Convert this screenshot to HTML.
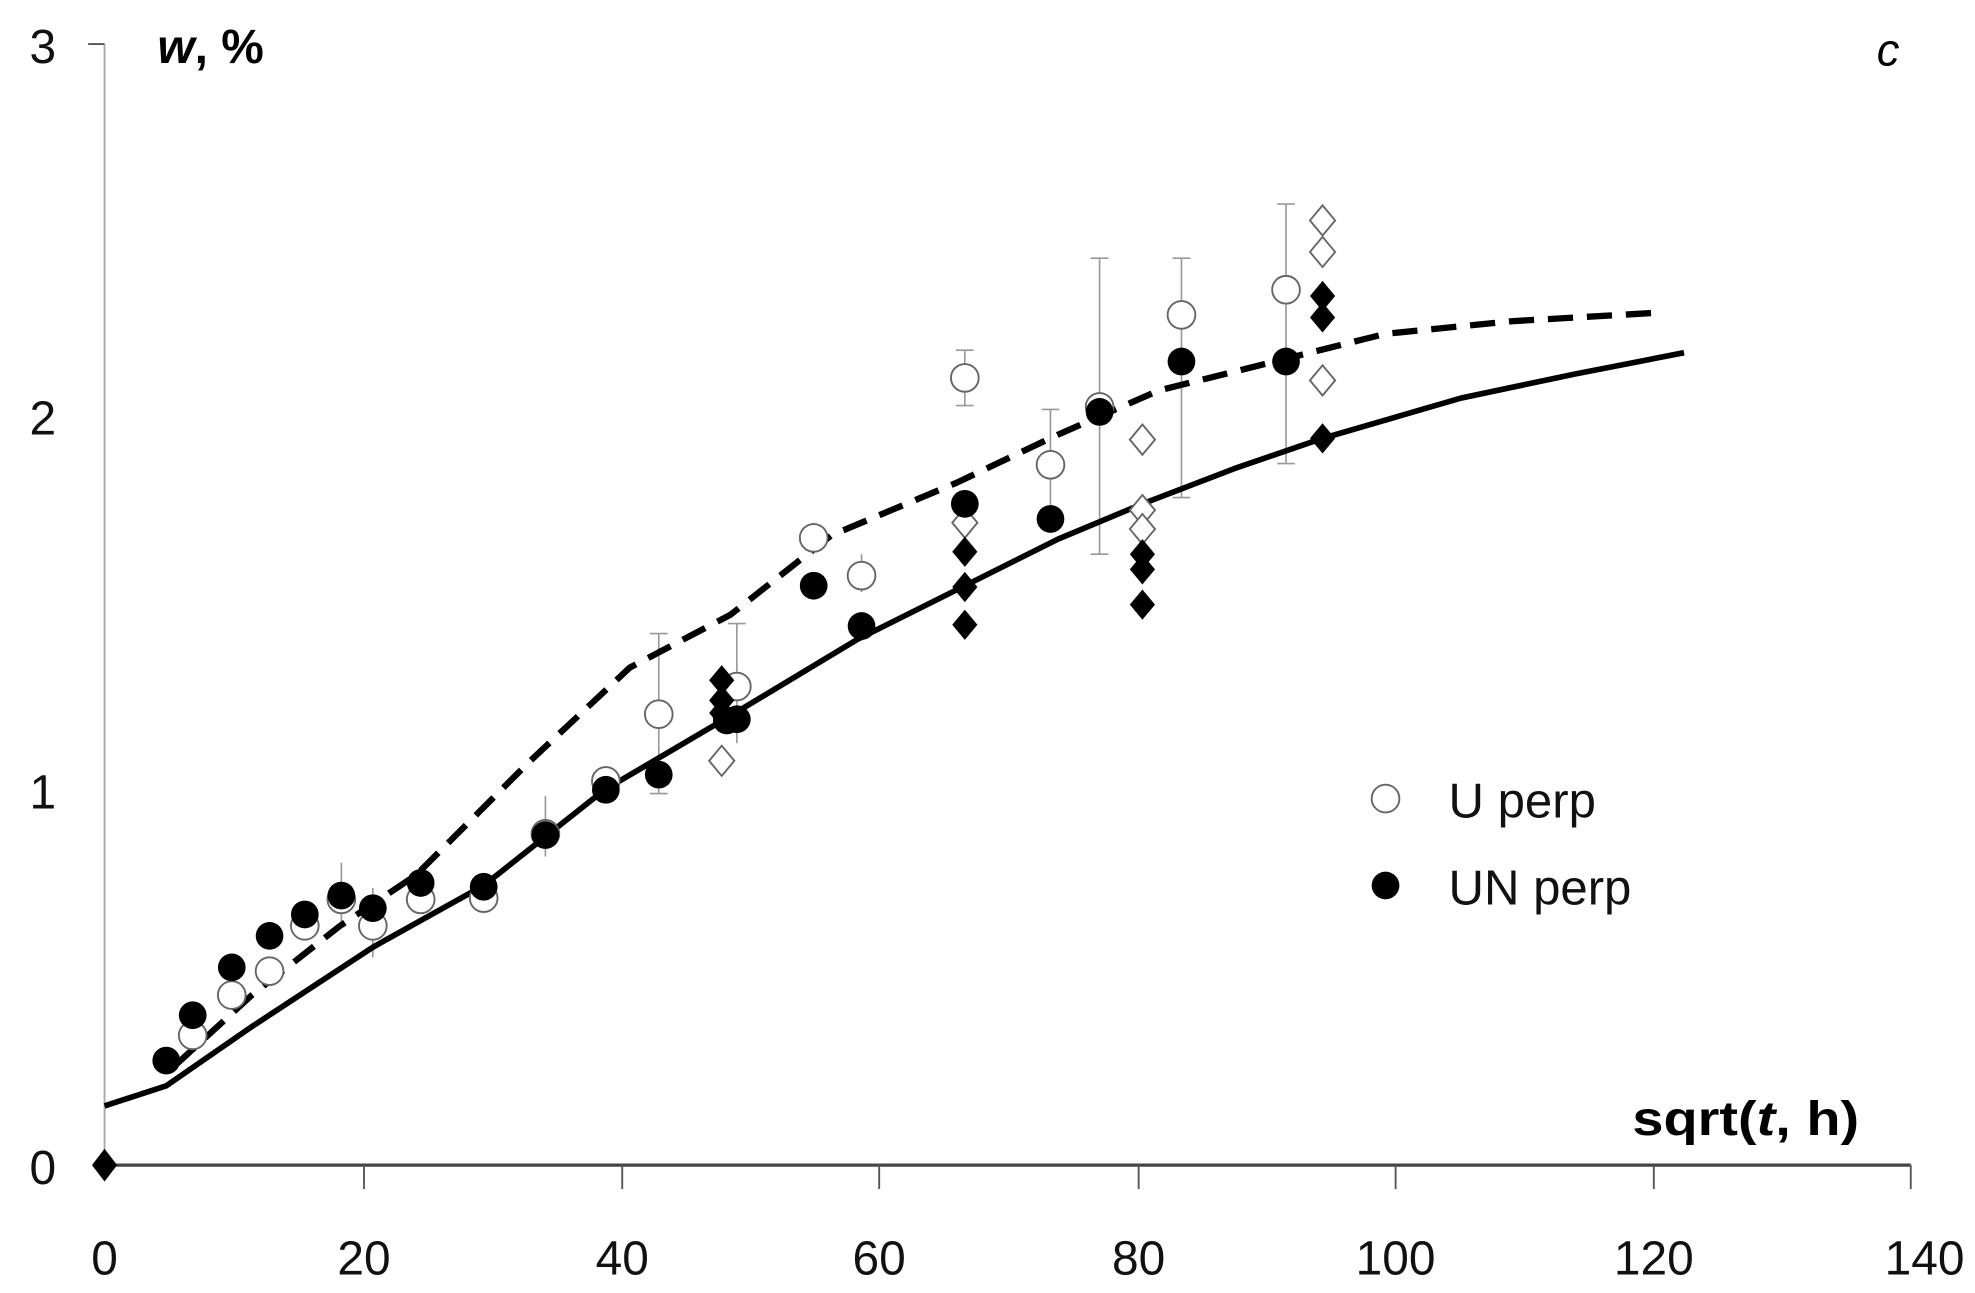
<!DOCTYPE html>
<html><head><style>html,body{margin:0;padding:0;background:#fff}svg{display:block}</style></head>
<body>
<svg width="1975" height="1293" viewBox="0 0 1568 1026.5" xmlns="http://www.w3.org/2000/svg" font-family="Liberation Sans, sans-serif">
<line x1="83" y1="35" x2="83" y2="925" stroke="#aaa" stroke-width="1.5"/>
<line x1="70" y1="35" x2="83" y2="35" stroke="#555" stroke-width="1.5"/>
<line x1="83" y1="925" x2="1517" y2="925" stroke="#444" stroke-width="2.5"/>
<g stroke="#555" stroke-width="1.5">
<line x1="289" y1="925" x2="289" y2="944"/><line x1="494" y1="925" x2="494" y2="944"/><line x1="698" y1="925" x2="698" y2="944"/><line x1="904" y1="925" x2="904" y2="944"/><line x1="1108" y1="925" x2="1108" y2="944"/><line x1="1313" y1="925" x2="1313" y2="944"/><line x1="1517" y1="925" x2="1517" y2="944"/>
</g>
<g font-size="38" fill="#111" text-anchor="middle">
<text x="83" y="1012">0</text><text x="289" y="1012">20</text><text x="494" y="1012">40</text><text x="698" y="1012">60</text><text x="904" y="1012">80</text><text x="1108" y="1012">100</text><text x="1313" y="1012">120</text><text x="1528" y="1012">140</text>
<text x="34" y="940">0</text><text x="34" y="642">1</text><text x="34" y="345">2</text><text x="34" y="50">3</text>
</g>
<text x="125" y="50" font-size="38" font-weight="bold" font-style="italic">w<tspan font-style="normal">, %</tspan></text>
<text x="1490" y="52" font-size="36" font-style="italic">c</text>
<text x="1296" y="901" font-size="38" font-weight="bold" textLength="180" lengthAdjust="spacingAndGlyphs">sqrt(<tspan font-style="italic">t</tspan>, h)</text>
<g stroke="#999" stroke-width="1.3">
<line x1="766" y1="278" x2="766" y2="322"/><line x1="873" y1="205" x2="873" y2="440"/><line x1="938" y1="205" x2="938" y2="395"/><line x1="1021" y1="162" x2="1021" y2="368"/><line x1="523" y1="503" x2="523" y2="630"/><line x1="585" y1="495" x2="585" y2="590"/><line x1="646" y1="415" x2="646" y2="440"/><line x1="684" y1="440" x2="684" y2="470"/><line x1="834" y1="325" x2="834" y2="420"/><line x1="271" y1="685" x2="271" y2="735"/><line x1="433" y1="632" x2="433" y2="680"/><line x1="296" y1="705" x2="296" y2="760"/><line x1="384" y1="695" x2="384" y2="725"/>
<line x1="759" y1="278" x2="773" y2="278"/><line x1="866" y1="205" x2="880" y2="205"/><line x1="866" y1="440" x2="880" y2="440"/><line x1="931" y1="205" x2="945" y2="205"/><line x1="931" y1="395" x2="945" y2="395"/><line x1="1014" y1="162" x2="1028" y2="162"/><line x1="1014" y1="368" x2="1028" y2="368"/><line x1="516" y1="503" x2="530" y2="503"/><line x1="516" y1="630" x2="530" y2="630"/><line x1="578" y1="495" x2="592" y2="495"/><line x1="827" y1="325" x2="841" y2="325"/><line x1="759" y1="322" x2="773" y2="322"/>
</g>
<polyline fill="none" stroke="#000" stroke-width="4.5" stroke-linejoin="round" points="83,878 132,862 200,815 296,752 384,703 480,627 577,570 680,508 766,465 840,428 907,400 980,372 1050,348 1160,316 1250,297 1337,280"/>
<polyline fill="none" stroke="#000" stroke-width="5" stroke-dasharray="20,11" stroke-linejoin="round" points="140,845 200,790 270,735 330,695 420,605 500,530 580,488 660,425 760,383 840,345 920,310 1020,285 1100,265 1200,255 1320,248"/>
<g fill="#fff" stroke="#666" stroke-width="1.5">
<circle cx="153" cy="822" r="11"/><circle cx="184" cy="790" r="11"/><circle cx="214" cy="771" r="11"/><circle cx="242" cy="735" r="11"/><circle cx="271" cy="714" r="11"/><circle cx="296" cy="735" r="11"/><circle cx="334" cy="714" r="11"/><circle cx="384" cy="713" r="11"/><circle cx="433" cy="662" r="11"/><circle cx="481" cy="620" r="11"/><circle cx="523" cy="567" r="11"/><circle cx="585" cy="545" r="11"/><circle cx="646" cy="427" r="11"/><circle cx="684" cy="457" r="11"/><circle cx="766" cy="300" r="11"/><circle cx="834" cy="369" r="11"/><circle cx="873" cy="323" r="11"/><circle cx="938" cy="250" r="11"/><circle cx="1021" cy="230" r="11"/>
</g>
<g fill="#fff" stroke="#666" stroke-width="1.5">
<path d="M573,592 l10,12 -10,12 -10,-12z"/><path d="M907,337 l10,12 -10,12 -10,-12z"/><path d="M907,393 l10,12 -10,12 -10,-12z"/><path d="M907,408 l10,12 -10,12 -10,-12z"/><path d="M1050,163 l10,12 -10,12 -10,-12z"/><path d="M1050,188 l10,12 -10,12 -10,-12z"/><path d="M1050,290 l10,12 -10,12 -10,-12z"/><path d="M766,403 l10,12 -10,12 -10,-12z"/>
</g>
<g fill="#000">
<circle cx="132" cy="842" r="11"/><circle cx="153" cy="806" r="11"/><circle cx="184" cy="768" r="11"/><circle cx="214" cy="743" r="11"/><circle cx="242" cy="726" r="11"/><circle cx="271" cy="711" r="11"/><circle cx="296" cy="721" r="11"/><circle cx="334" cy="701" r="11"/><circle cx="384" cy="704" r="11"/><circle cx="433" cy="663" r="11"/><circle cx="481" cy="627" r="11"/><circle cx="523" cy="615" r="11"/><circle cx="577" cy="572" r="11"/><circle cx="585" cy="571" r="11"/><circle cx="646" cy="465" r="11"/><circle cx="684" cy="497" r="11"/><circle cx="766" cy="400" r="11"/><circle cx="834" cy="412" r="11"/><circle cx="873" cy="327" r="11"/><circle cx="938" cy="287" r="11"/><circle cx="1021" cy="287" r="11"/>
<path d="M83,912 l10,13 -10,13 -10,-13z"/><path d="M573,528 l10,12 -10,12 -10,-12z"/><path d="M573,544 l10,12 -10,12 -10,-12z"/><path d="M573,554 l10,12 -10,12 -10,-12z"/><path d="M766,426 l10,12 -10,12 -10,-12z"/><path d="M766,454 l10,12 -10,12 -10,-12z"/><path d="M766,484 l10,12 -10,12 -10,-12z"/><path d="M907,428 l10,12 -10,12 -10,-12z"/><path d="M907,440 l10,12 -10,12 -10,-12z"/><path d="M907,468 l10,12 -10,12 -10,-12z"/><path d="M1050,223 l10,12 -10,12 -10,-12z"/><path d="M1050,240 l10,12 -10,12 -10,-12z"/><path d="M1050,336 l10,12 -10,12 -10,-12z"/>
</g>
<circle cx="1100" cy="634" r="11" fill="#fff" stroke="#666" stroke-width="1.5"/>
<circle cx="1100" cy="703" r="11" fill="#000"/>
<g font-size="39" fill="#111"><text x="1150" y="649">U perp</text><text x="1150" y="718">UN perp</text></g>
</svg>
</body></html>
